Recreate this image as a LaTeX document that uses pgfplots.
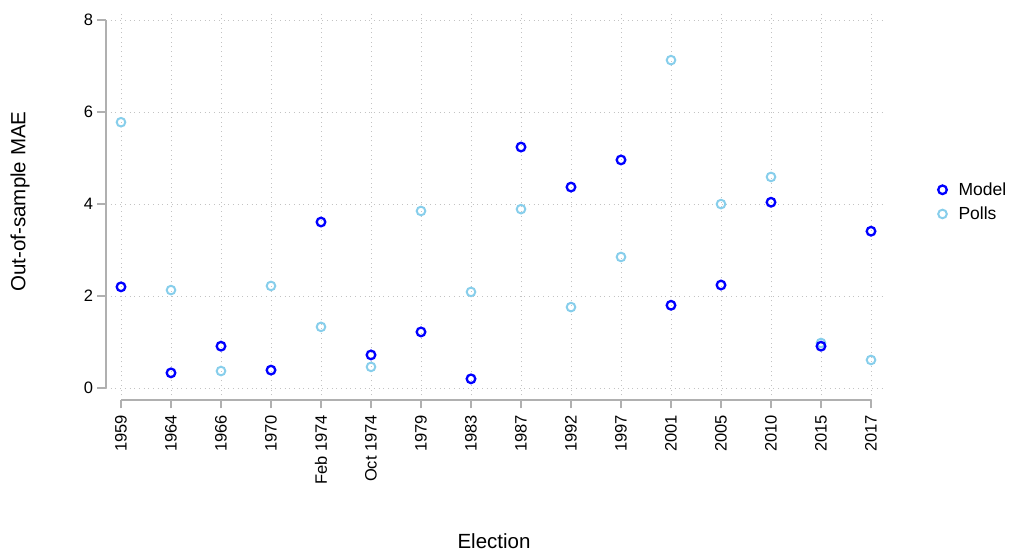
\documentclass[border=0pt]{standalone}
\usepackage{pgfplots}
\pgfplotsset{compat=1.18}
\usepackage{pgfplotstable}
\usepackage{fontspec}
\setmainfont{Liberation Sans}
\definecolor{modelc}{RGB}{0,0,255}
\definecolor{pollc}{RGB}{135,206,235}
\definecolor{axc}{RGB}{176,176,176}
\definecolor{gridc}{RGB}{195,195,195}

\pgfplotstableread{
x model polls
0  2.20 5.78
1  0.33 2.13
2  0.91 0.37
3  0.39 2.22
4  3.61 1.33
5  0.72 0.46
6  1.22 3.85
7  0.20 2.09
8  5.24 3.89
9  4.37 1.76
10 4.96 2.85
11 1.80 7.13
12 2.24 4.00
13 4.04 4.59
14 0.91 0.98
15 3.41 0.61
}\datatable

\begin{document}
\begin{tikzpicture}[x=1pt,y=1pt]
\path[use as bounding box] (0,0) rectangle (1012,551);
\begin{axis}[
  at={(106pt,151pt)}, anchor=south west,
  scale only axis, width=776pt, height=390pt,
  xmin=-0.3, xmax=15.22, ymin=-0.26, ymax=8.22,
  axis line style={draw=none},
  xtick={0,...,15},
  xticklabels={1959,1964,1966,1970,Feb 1974,Oct 1974,1979,1983,1987,1992,1997,2001,2005,2010,2015,2017},
  ytick={0,2,4,6,8},
  tick pos=left,
  tick align=outside, major tick length=8.5pt,
  tick style={axc, line width=1.3pt},
  xticklabel shift=3pt,
  yticklabel shift=1pt,
  x tick label style={rotate=90, anchor=east, font=\fontsize{16.5}{19}\selectfont},
  y tick label style={font=\fontsize{16.5}{19}\selectfont},
  /pgf/number format/assume math mode=true,
  grid=major,
  major grid style={gridc, line width=1pt, dash pattern=on 1pt off 3.7pt},
  clip=false,
  xlabel={Election},
  ylabel={Out-of-sample MAE},
  every axis x label/.style={at={([yshift=-148.5pt]rel axis cs:0.5,0)}, anchor=base, inner sep=0pt, text depth=0pt, font=\fontsize{20.5}{24}\selectfont},
  every axis y label/.style={at={([xshift=-86pt]rel axis cs:0,0.509)}, rotate=90, anchor=center, inner sep=0pt, font=\fontsize{20.5}{24}\selectfont},
  reverse legend,
  legend cell align=left,
  legend image code/.code={\draw[#1] plot coordinates {(0pt,0pt)}; \path[draw=none,fill=none] (0pt,0pt) -- (14pt,0pt);},
  legend style={at={([xshift=53pt]rel axis cs:1,0.508)}, anchor=west, draw=none, fill=none,
    font=\fontsize{17.5}{21}\selectfont, row sep=6pt},
]
\draw[axc, line width=1.3pt] (axis cs:-0.3,0) -- (axis cs:-0.3,8);
\draw[axc, line width=1.3pt] (axis cs:0,-0.26) -- (axis cs:15,-0.26);
\addplot[only marks, mark=o, mark size=4.3pt, color=pollc, line width=2pt] table[x=x, y=polls] {\datatable};
\addlegendentry{Polls}
\addplot[only marks, mark=o, mark size=4.3pt, color=modelc, line width=2.3pt] table[x=x, y=model] {\datatable};
\addlegendentry{Model}
\end{axis}
\end{tikzpicture}
\end{document}
